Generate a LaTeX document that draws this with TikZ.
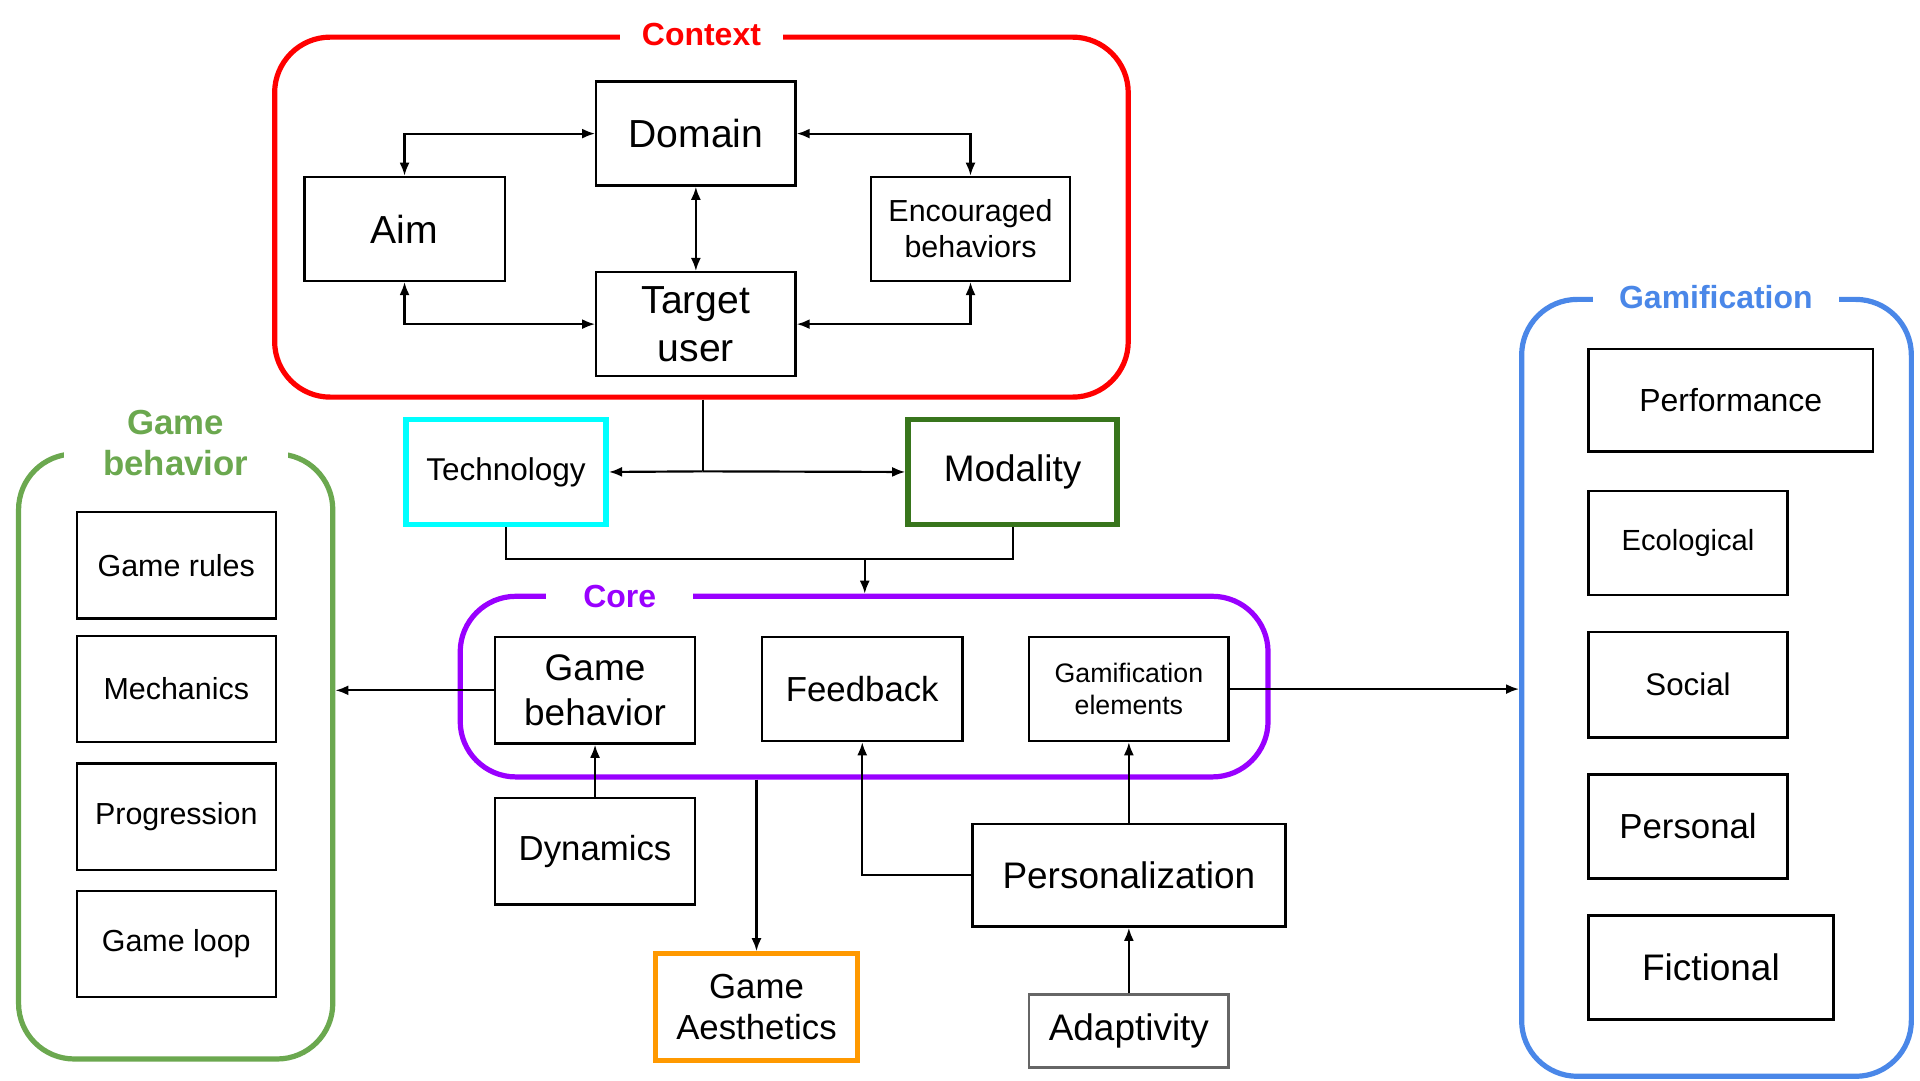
\documentclass[tikz,border=0pt]{standalone}
\usepackage{fontspec}
\setmainfont{Liberation Sans}
\usepackage{tikz}
\usetikzlibrary{arrows.meta}
\definecolor{ctxred}{rgb}{1, 0, 0}
\definecolor{corepurple}{rgb}{0.6, 0, 1}
\definecolor{techcyan}{rgb}{0, 1, 1}
\definecolor{moddark}{rgb}{0.22, 0.46, 0.11}
\definecolor{gbgreen}{rgb}{0.42, 0.66, 0.31}
\definecolor{gamblue}{rgb}{0.29, 0.53, 0.91}
\definecolor{aesorange}{rgb}{1, 0.6, 0}
\definecolor{adagray}{rgb}{0.4, 0.4, 0.4}
\tikzset{wh/.style 2 args = {minimum width=#1*0.02cm, minimum height=#2*0.02cm},
         box/.style = {draw, line width=1.1pt, inner sep=0pt, align=center},
         frame/.style = {draw=#1, line width=2.4pt, rounded corners=0.9cm},
         title/.style = {fill=white, text=#1, align=center, inner ysep=1pt,
                         font=\bfseries\fontsize{14.7}{17}\selectfont},
         fxl/.style = {font=\fontsize{18}{22}\selectfont},
         fl/.style = {font=\fontsize{17}{20.5}\selectfont},
         fm/.style = {font=\fontsize{16}{19}\selectfont},
         fs/.style = {font=\fontsize{14}{16.5}\selectfont},
         fxs/.style = {font=\fontsize{12.3}{14.8}\selectfont},
         link/.style = {line width=1pt, >={Latex[length=6pt, width=4.6pt]}}}

\begin{document}
\begin{tikzpicture}[x=0.02cm, y=-0.02cm]
      \useasboundingbox (0, 0) rectangle (1552, 873);
      % groups
      \node [frame=ctxred, wh={690}{291}] (context) at (567, 175.5) {};
      \node [frame=corepurple, wh={653}{146}] (core) at (698.5, 555) {};
      \node [frame=gbgreen, wh={254}{489}] (gbgroup) at (142, 611.5) {};
      \node [frame=gamblue, wh={315}{628}] (gamgroup) at (1387.5, 556) {};
      \node [title=ctxred, inner xsep=18*0.02cm] at (context.north) {Context};
      \node [title=corepurple, inner xsep=30*0.02cm] at (501, 482) {Core};
      \node [title=gbgreen, inner xsep=32*0.02cm, font=\bfseries\fontsize{16}{19}\selectfont] at (142, 358) {Game\\behavior};
      \node [title=gamblue, inner xsep=21*0.02cm] at (gamgroup.north -| 1387, 0) {Gamification};
      % context
      \node [box, wh={161}{84}, fxl] (domain) at (562.5, 108) {Domain};
      \node [box, wh={162}{84}, fxl] (aim) at (327, 185) {Aim};
      \node [box, wh={161}{84}, fs] (enc) at (784.5, 185) {Encouraged\\behaviors};
      \node [box, wh={161}{84}, fxl] (target) at (562.5, 262) {Target\\user};
      \node [box, draw=techcyan, line width=2.6pt, wh={162}{85}, font=\fontsize{14.5}{17}\selectfont] (tech) at (409, 381.5) {Technology};
      \node [box, draw=moddark, line width=2.6pt, wh={169}{85}, fl] (modality) at (818.5, 381.5) {Modality};
      % core
      \node [box, wh={162}{86}, fl] (gbeh) at (481, 558) {Game\\behavior};
      \node [box, wh={162}{84}, fm] (feed) at (697, 557) {Feedback};
      \node [box, wh={161}{84}, fxs] (gelem) at (912.5, 557) {Gamification\\elements};
      \node [box, wh={162}{86}, fm] (dyn) at (481, 688) {Dynamics};
      \node [box, draw=aesorange, line width=2.4pt, wh={163}{86}, fm] (aesth) at (611.5, 814) {Game\\Aesthetics};
      \node [box, wh={253}{83}, fl] (pers) at (912.5, 707.5) {Personalization};
      \node [box, draw=adagray, wh={161}{59}, fl] (adapt) at (912.5, 833.5) {Adaptivity};
      % game behavior
      \node [box, wh={161}{86}, fs] (rules) at (142.5, 457) {Game rules};
      \node [box, wh={161}{86}, fs] (mech) at (142.5, 557) {Mechanics};
      \node [box, wh={161}{86}, fs] (prog) at (142.5, 660) {Progression};
      \node [box, wh={161}{86}, fs] (loop) at (142.5, 763) {Game loop};
      % gamification
      \node [box, wh={230}{83}, font=\fontsize{14.7}{17}\selectfont] (perf) at (1399, 323.5) {Performance};
      \node [box, wh={161}{84}, font=\fontsize{13.4}{16}\selectfont] (eco) at (1364.5, 439) {Ecological};
      \node [box, wh={161}{85}, font=\fontsize{14.4}{17}\selectfont] (social) at (1364.5, 553.5) {Social};
      \node [box, wh={161}{84}, fm] (personal) at (1364.5, 668) {Personal};
      \node [box, wh={198}{84}, fl] (fict) at (1383, 782) {Fictional};
      % connectors
      \coordinate (split) at (568, 381);
      \coordinate (join) at (699, 452);
      \draw [link, <->] (aim.north) |- (domain.west);
      \draw [link, <->] (enc.north) |- (domain.east);
      \draw [link, <->] (domain) -- (target);
      \draw [link, <->] (aim.south) |- (target.west);
      \draw [link, <->] (enc.south) |- (target.east);
      \draw [link] (context.south -| split) -- (split);
      \draw [link, ->] (split) -- (tech.east);
      \draw [link, ->] (split) -- (modality.west);
      \draw [link] (tech.south) |- (join) -| (modality.south);
      \draw [link, ->] (join) -- (core.north -| join);
      \draw [link, ->] (gbeh.west) -- (gbgroup.east |- gbeh.west);
      \draw [link, ->] (gelem.east) -- (gamgroup.west |- gelem.east);
      \draw [link, ->] (dyn) -- (gbeh);
      \draw [link, ->] (core.south -| aesth.north) -- (aesth.north);
      \draw [link, ->] (pers.north) -- (gelem.south);
      \draw [link, ->] (pers.west) -| (feed.south);
      \draw [link, ->] (adapt) -- (pers);
    \end{tikzpicture}
\end{document}
